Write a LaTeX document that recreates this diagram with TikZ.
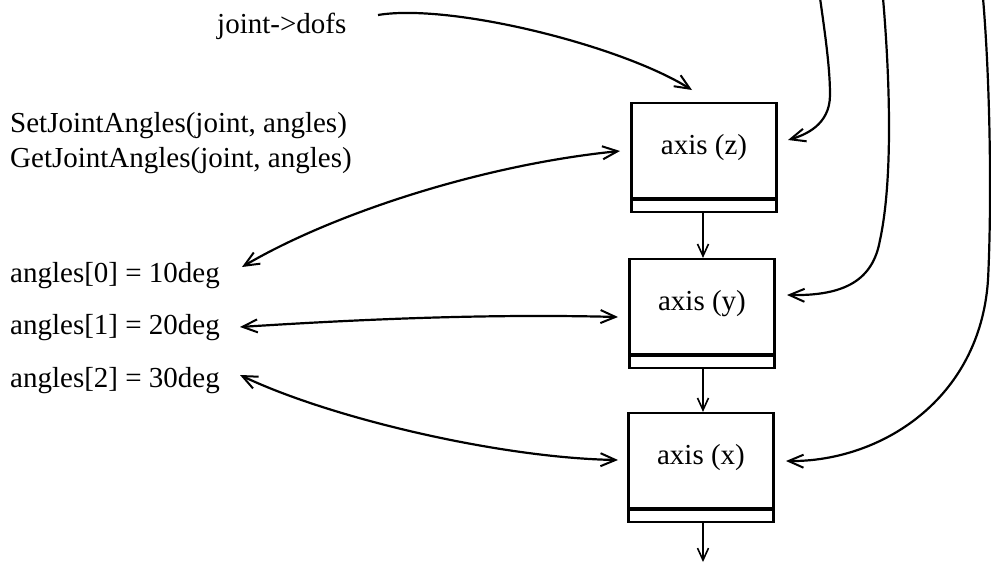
\documentclass[tikz,border=0pt]{standalone}
\usepackage{fontspec}
\setmainfont{Liberation Serif}
\usetikzlibrary{arrows.meta}
\tikzset{
  lbl/.style={font=\fontsize{29}{34}\selectfont, inner sep=0pt},
  axbody/.style={draw, line width=2.2pt, minimum width=145pt, minimum height=95pt, inner sep=0pt,
     font=\fontsize{29}{34}\selectfont, text height=20pt, text depth=13pt},
  axstrip/.style={draw, line width=2.2pt, minimum width=145pt, minimum height=12pt, inner sep=0pt, anchor=north},
  conn/.style={line width=2.2pt, -{Straight Barb[length=15pt,width=13pt,line width=2pt]}},
  biconn/.style={line width=2.2pt, {Straight Barb[length=15pt,width=13pt,line width=2pt]}-{Straight Barb[length=15pt,width=13pt,line width=2pt]}},
  vconn/.style={line width=1.6pt, -{Straight Barb[length=12pt,width=11pt,line width=1.6pt]}}
}
\begin{document}
\begin{tikzpicture}[x=1pt,y=-1pt]
\useasboundingbox (0,0) rectangle (991,565);

% boxes
\node[axbody] (zb) at (704,150.5) {axis (z)};
\node[axstrip] (zs) at (zb.south) {};
\node[axbody] (yb) at (702,306.5) {axis (y)};
\node[axstrip] (ys) at (yb.south) {};
\node[axbody] (xb) at (701,460.5) {axis (x)};
\node[axstrip] (xs) at (xb.south) {};

% labels
\node[lbl, anchor=base west] (jd) at (217,33) {joint->dofs};
\node[lbl, anchor=base west] (set) at (10,132) {SetJointAngles(joint, angles)};
\node[lbl, anchor=base west] (get) at (10,167) {GetJointAngles(joint, angles)};
\node[lbl, anchor=base west] (a0) at (10,282) {angles[0] = 10deg};
\node[lbl, anchor=base west] (a1) at (10,334) {angles[1] = 20deg};
\node[lbl, anchor=base west] (a2) at (10,387) {angles[2] = 30deg};

% free ends
\coordinate (jdstart) at (378,15);
\coordinate (jdtip) at (692,90);
\coordinate (zin) at (620,151);
\coordinate (a0tip) at (242,267);
\coordinate (a1tip) at (240,327);
\coordinate (yin) at (618,317);
\coordinate (a2tip) at (240,375);
\coordinate (xin) at (618,460);
\coordinate (r1) at (820,-2);
\coordinate (r2) at (883,-2);
\coordinate (r3) at (983,-2);
\coordinate (zr) at (788,140);
\coordinate (yr) at (787,295);
\coordinate (xr) at (786,461);
\coordinate (bot) at (703,562);

% connectors
\draw[conn] (jdstart) .. controls (450,3) and (620,45) .. (jdtip);
\draw[biconn] (a0tip) .. controls (330,215) and (480,165) .. (zin);
\draw[biconn] (a1tip) .. controls (380,318) and (500,314) .. (yin);
\draw[biconn] (a2tip) .. controls (330,418) and (500,458) .. (xin);

\draw[conn] (r1) .. controls (826,40) and (830,70) .. (830,95) .. controls (830,125) and (805,135) .. (zr);
\draw[conn] (r2) .. controls (890,80) and (893,180) .. (880,240) .. controls (873,280) and (845,296) .. (yr);
\draw[conn] (r3) .. controls (990,80) and (992,200) .. (988,280) .. controls (980,400) and (880,462) .. (xr);

\draw[vconn] (zs.south -| 703,0) -- (yb.north -| 703,0);
\draw[vconn] (ys.south -| 703,0) -- (xb.north -| 703,0);
\draw[vconn] (xs.south -| 703,0) -- (bot);
\end{tikzpicture}
\end{document}
